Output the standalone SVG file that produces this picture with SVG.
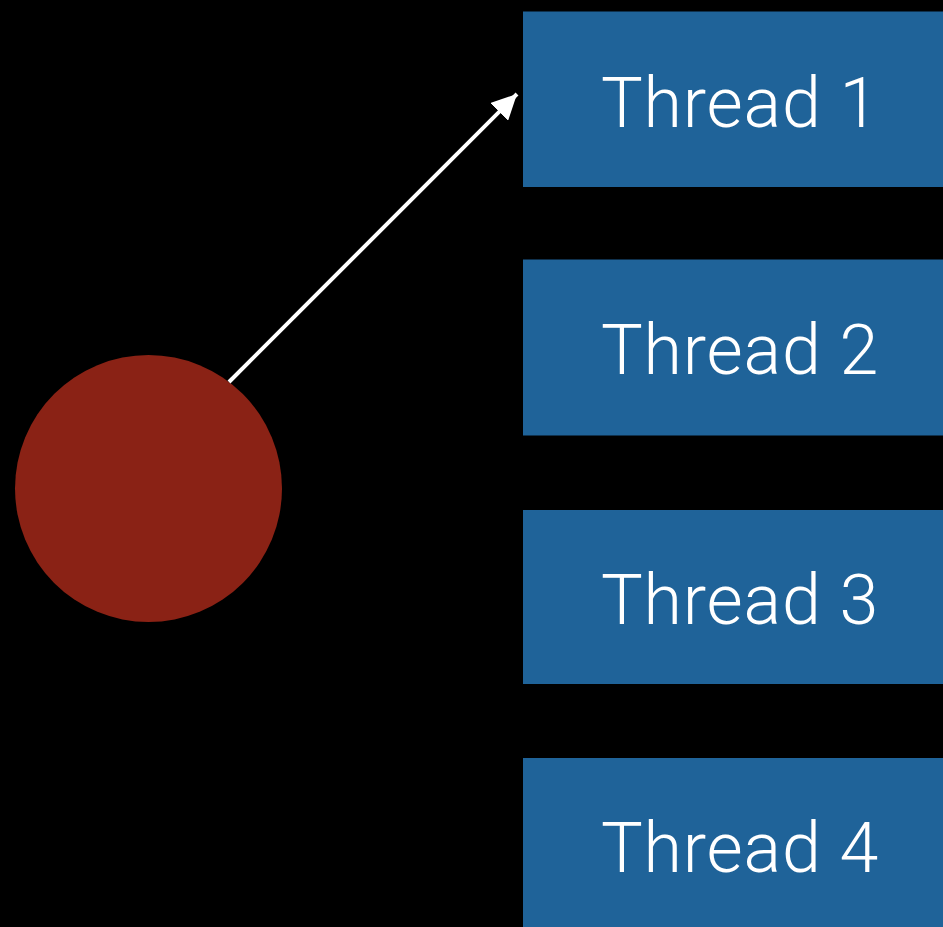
<svg xmlns="http://www.w3.org/2000/svg" width="943" height="927" viewBox="0 0 943 927">
  <style>
    .box { fill: #1f6399; }
    .label { fill: #ffffff; font-family: Roboto, "Liberation Sans", Arial, sans-serif; font-weight: 300; font-size: 70px; letter-spacing: 0.8px; }
    .edge { stroke: #ffffff; stroke-width: 4; fill: none; }
  </style>
  <defs>
    <marker id="head" viewBox="0 0 10 10" refX="10" refY="5" markerWidth="6.3" markerHeight="6.3" markerUnits="strokeWidth" orient="auto">
      <path d="M0,0 L10,5 L0,10 Z" fill="#ffffff"/>
    </marker>
  </defs>
  <rect x="0" y="0" width="943" height="927" fill="#000000"/>

  <g id="source">
    <circle cx="148.5" cy="488.5" r="133.5" fill="#8a2215"/>
  </g>

  <g id="thread1">
    <rect class="box" x="523" y="11.5" width="420" height="175.5"/>
    <text class="label" x="601" y="127">Thread 1</text>
  </g>
  <g id="thread2">
    <rect class="box" x="523" y="259.5" width="420" height="176"/>
    <text class="label" x="601" y="374">Thread 2</text>
  </g>
  <g id="thread3">
    <rect class="box" x="523" y="510" width="420" height="174"/>
    <text class="label" x="601" y="624">Thread 3</text>
  </g>
  <g id="thread4">
    <rect class="box" x="523" y="758" width="420" height="176"/>
    <text class="label" x="601" y="872">Thread 4</text>
  </g>

  <g id="connectors">
    <line class="edge" x1="229" y1="382" x2="517" y2="94" marker-end="url(#head)"/>
  </g>
</svg>
